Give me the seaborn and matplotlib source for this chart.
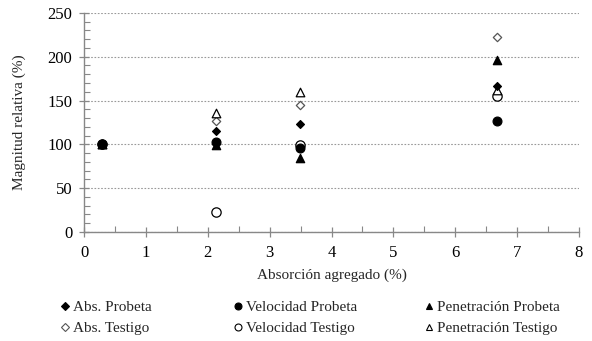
import matplotlib
matplotlib.use("Agg")
import matplotlib.pyplot as plt
from matplotlib.ticker import MultipleLocator
import seaborn as sns
import pandas as pd

absorcion = [0.29, 2.13, 3.49, 6.67]
abs_probeta = [100, 115, 123, 167]
abs_testigo = [100, 127, 145, 222]
vel_probeta = [100, 103, 96, 127]
vel_testigo = [100, 23, 99, 155]
pen_probeta = [100, 99, 84, 196]
pen_testigo = [100, 136, 160, 162]

series = [
    ("Abs. Probeta", abs_probeta, "D", "black", 16),
    ("Abs. Testigo", abs_testigo, "D", "white", 18),
    ("Velocidad Probeta", vel_probeta, "o", "black", 40),
    ("Velocidad Testigo", vel_testigo, "o", "white", 45),
    ("Penetración Probeta", pen_probeta, "^", "black", 36),
    ("Penetración Testigo", pen_testigo, "^", "white", 38),
]

sns.set_theme(style="white")
plt.rcParams["font.family"] = ["Liberation Serif", "DejaVu Serif"]

fig = plt.figure(figsize=(5.92, 3.41), dpi=100)
ax = fig.add_axes([0.142, 0.32, 0.836, 0.642])

# open (Testigo) markers first, filled (Probeta) on top
draw_order = [1, 3, 5, 0, 2, 4]
for i in draw_order:
    name, vals, mk, fc, sz = series[i]
    df = pd.DataFrame({"x": absorcion, "y": vals})
    ec = "#555555" if (fc == "white" and mk == "D") else "black"
    sns.scatterplot(data=df, x="x", y="y", ax=ax, marker=mk, s=sz,
                    facecolor=fc, edgecolor=ec, linewidth=0.9, zorder=3,
                    legend=False)

handles = []
for name, vals, mk, fc, sz in series:
    ec = "#555555" if (fc == "white" and mk == "D") else "black"
    h = plt.Line2D([], [], linestyle="none", marker=mk,
                   markersize=4.2 if mk == "D" else 5,
                   markerfacecolor=fc, markeredgecolor=ec, markeredgewidth=0.8)
    handles.append((h, name))

ax.set_xlim(0, 8)
ax.set_ylim(0, 250)
ax.xaxis.set_major_locator(MultipleLocator(1))
ax.xaxis.set_minor_locator(MultipleLocator(0.5))
ax.yaxis.set_major_locator(MultipleLocator(50))
ax.yaxis.set_minor_locator(MultipleLocator(10))
ax.yaxis.grid(True, which="major", linestyle=(0, (1.5, 1.5)), color="#999999", linewidth=0.8)
ax.xaxis.grid(False)
for s in ["top", "right"]:
    ax.spines[s].set_visible(False)
for s in ["left", "bottom"]:
    ax.spines[s].set_color("#888888")
    ax.spines[s].set_linewidth(1.0)
ax.tick_params(axis="both", which="major", direction="inout", length=7, width=0.9,
               color="#888888", labelsize=12, labelcolor="black")
ax.tick_params(axis="x", which="major", pad=6)
ax.tick_params(axis="y", which="major", pad=5)
ax.tick_params(axis="both", which="minor", direction="in", length=4, width=0.8,
               color="#888888")
ax.tick_params(axis="both", which="both", bottom=True, left=True)
ax.set_xlabel("Absorción agregado (%)", fontsize=11, labelpad=5)
ax.set_ylabel("Magnitud relativa (%)", fontsize=11, labelpad=15)

# three legend columns at fixed positions
col_x = [59, 232, 423]
W, H = 592, 341
for c in range(3):
    pair = handles[2 * c:2 * c + 2]
    leg = fig.legend([h for h, _ in pair], [n for _, n in pair],
                     loc="center left", bbox_to_anchor=(col_x[c] / W, 1 - 318 / H),
                     frameon=False, fontsize=11, handletextpad=0.1,
                     labelspacing=0.49, handlelength=0.8, borderpad=0,
                     borderaxespad=0)

fig.savefig("out.png", dpi=100)
